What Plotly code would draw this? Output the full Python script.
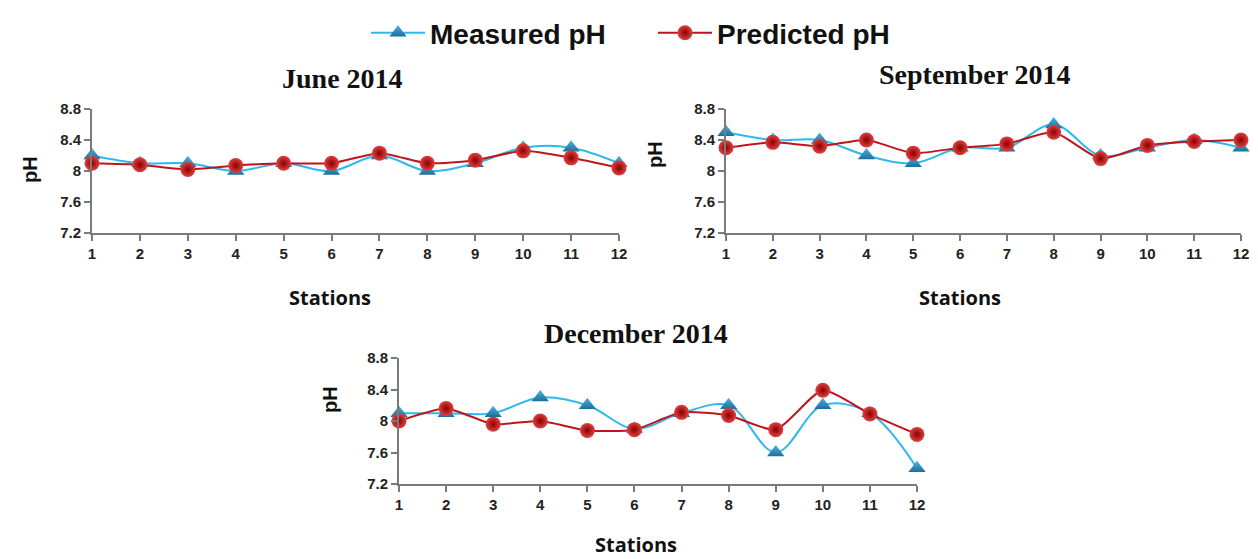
import plotly.graph_objects as go

stations = list(range(1, 13))
june_measured = [8.2, 8.1, 8.1, 8.0, 8.1, 8.0, 8.2, 8.0, 8.1, 8.3, 8.3, 8.1]
june_predicted = [8.1, 8.08, 8.02, 8.07, 8.1, 8.1, 8.23, 8.1, 8.14, 8.26, 8.17, 8.04]
sep_measured = [8.5, 8.4, 8.4, 8.2, 8.1, 8.3, 8.3, 8.6, 8.2, 8.3, 8.4, 8.3]
sep_predicted = [8.3, 8.37, 8.32, 8.4, 8.23, 8.3, 8.35, 8.5, 8.16, 8.33, 8.38, 8.4]
dec_measured = [8.1, 8.1, 8.1, 8.3, 8.2, 7.9, 8.1, 8.2, 7.6, 8.2, 8.1, 7.4]
dec_predicted = [8.0, 8.16, 7.96, 8.0, 7.88, 7.89, 8.11, 8.07, 7.89, 8.39, 8.09, 7.83]
titles = ["June 2014", "September 2014", "December 2014"]
yticks = [7.2, 7.6, 8.0, 8.4, 8.8]
yticktext = ["7.2", "7.6", "8", "8.4", "8.8"]

# page body has an 8px margin: the figure starts at (8, 8) of the window
OFF = 8
W, H = 1258 - OFF, 559 - OFF
panels = [
    dict(x0=92, x1=619, y0=109, y1=233, m=june_measured, p=june_predicted,
         title=(342, 78), xlab=(330, 297), ylab=(30, 170)),
    dict(x0=726, x1=1241, y0=109, y1=233, m=sep_measured, p=sep_predicted,
         title=(975, 75), xlab=(960, 297), ylab=(655, 154)),
    dict(x0=399, x1=917, y0=358, y1=484, m=dec_measured, p=dec_predicted,
         title=(636, 333), xlab=(636, 544), ylab=(330, 400)),
]


def px(x):
    return (x - OFF) / W


def py(y):
    return 1 - (y - OFF) / H


fig = go.Figure()
BLUE_LINE = "#2EB8EC"
RED_LINE = "#C0141C"
AXC = "#7a7a7a"

for i, pn in enumerate(panels):
    xa = "x" if i == 0 else f"x{i+1}"
    ya = "y" if i == 0 else f"y{i+1}"
    fig.add_trace(go.Scatter(
        x=stations, y=pn["m"], xaxis=xa, yaxis=ya, name="Measured pH",
        mode="lines+markers", line=dict(color=BLUE_LINE, width=2, shape="spline", smoothing=1.0),
        marker=dict(symbol="triangle-up", size=15, color="#4FB3E0",
                    gradient=dict(type="vertical", color="#1C6E9E"),
                    line=dict(width=0)),
        cliponaxis=False, showlegend=(i == 0)))
    fig.add_trace(go.Scatter(
        x=stations, y=pn["p"], xaxis=xa, yaxis=ya, name="Predicted pH",
        mode="lines+markers", line=dict(color=RED_LINE, width=2, shape="spline", smoothing=0.6),
        marker=dict(symbol="circle", size=15, color="#E04040",
                    gradient=dict(type="radial", color="#8A0000"),
                    line=dict(width=0)),
        cliponaxis=False, showlegend=(i == 0)))

    dom_x = [px(pn["x0"]), px(pn["x1"])]
    dom_y = [py(pn["y1"]), py(pn["y0"])]
    axfont = dict(family="Liberation Sans, Arial", size=15, color="#222222", weight="bold")
    xkey = "xaxis" if i == 0 else f"xaxis{i+1}"
    ykey = "yaxis" if i == 0 else f"yaxis{i+1}"
    fig.layout[xkey] = dict(domain=dom_x, range=[1, 12], tickvals=stations, anchor=ya, automargin=False,
                            showline=True, linecolor=AXC, linewidth=2, ticks="outside",
                            tickcolor=AXC, ticklen=6, tickwidth=2, showgrid=False, zeroline=False,
                            tickfont=axfont)
    fig.layout[ykey] = dict(domain=dom_y, range=[7.2, 8.8], tickvals=yticks, ticktext=yticktext,
                            anchor=xa, automargin=False, showline=True, linecolor=AXC, linewidth=2, ticks="outside",
                            tickcolor=AXC, ticklen=6, tickwidth=2, showgrid=False, zeroline=False,
                            tickfont=axfont)
    tx, ty = pn["title"]
    fig.add_annotation(text=f"<b>{titles[i]}</b>", xref="paper", yref="paper",
                       x=px(tx), y=py(ty), xanchor="center", yanchor="middle", showarrow=False,
                       font=dict(family="Liberation Serif, DejaVu Serif", size=28, color="#111"))
    lx, ly = pn["xlab"]
    fig.add_annotation(text="<b>Stations</b>", xref="paper", yref="paper",
                       x=px(lx), y=py(ly), xanchor="center", yanchor="middle", showarrow=False,
                       font=dict(family="Open Sans, Liberation Sans", size=20, color="#111"))
    vx, vy = pn["ylab"]
    fig.add_annotation(text="<b>pH</b>", xref="paper", yref="paper", textangle=-90,
                       x=px(vx), y=py(vy), xanchor="center", yanchor="middle", showarrow=False,
                       font=dict(family="Liberation Sans, Arial", size=20, color="#111"))

fig.update_layout(
    width=W, height=H, margin=dict(l=0, r=0, t=0, b=0),
    paper_bgcolor="white", plot_bgcolor="white",
    legend=dict(orientation="h", x=px(366), xanchor="left", y=1, yanchor="top",
                font=dict(family="Liberation Sans, Arial", size=28, color="#111", weight="bold"),
                itemwidth=54, entrywidth=218),
    showlegend=True,
)
fig.write_html("out.html")
